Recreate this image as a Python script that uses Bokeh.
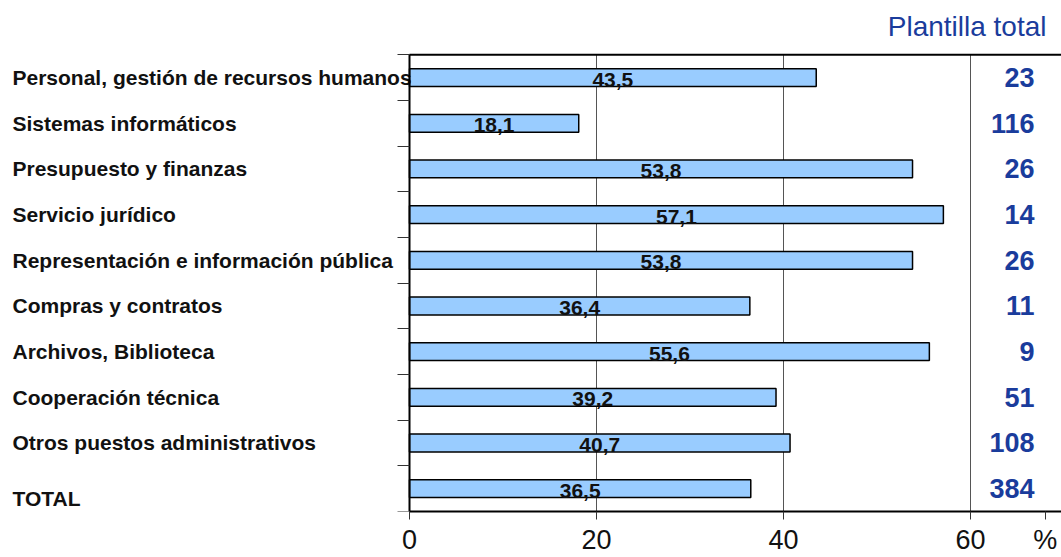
from bokeh.plotting import figure
from bokeh.models import ColumnDataSource, Range1d, FixedTicker, LinearAxis
from bokeh.core.properties import value
from bokeh.embed import file_html
from bokeh.resources import INLINE

categories = ["Personal, gestión de recursos humanos", "Sistemas informáticos",
              "Presupuesto y finanzas", "Servicio jurídico",
              "Representación e información pública", "Compras y contratos",
              "Archivos, Biblioteca", "Cooperación técnica",
              "Otros puestos administrativos", "TOTAL"]
pct = [43.5, 18.1, 53.8, 57.1, 53.8, 36.4, 55.6, 39.2, 40.7, 36.5]
plantilla = [23, 116, 26, 14, 26, 11, 9, 51, 108, 384]
x_ticks = [0, 20, 40, 60]
right_title = "Plantilla total"
unit_label = "%"
unit_pos = 68

FONT = "Liberation Sans"
BLUE = "#1a3c9c"
n = len(categories)

# geometry (pixels)
W, H = 1061, 557
PX_X = 9.35          # pixels per percentage point
AXIS_X0 = 409        # screen x of value 0
TOP_Y = 54.5         # screen y of top of first row
BOT_Y = 513          # screen y of bottom axis (frame bottom)
PX_Y = (BOT_Y - TOP_Y) / n

XSTART = -AXIS_X0 / PX_X
XEND = XSTART + W / PX_X
YTOP = -TOP_Y / PX_Y

src = ColumnDataSource(dict(
    y=[i + 0.5 for i in range(n)],
    cat=categories,
    pct=pct,
    mid=[v / 2 for v in pct],
    pct_txt=[f"{v:.1f}".replace(".", ",") for v in pct],
    plant=[str(v) for v in plantilla],
    catoff=[10 if c == "TOTAL" else 0 for c in categories],
))

p = figure(width=W, height=H, output_backend="svg", toolbar_location=None,
           x_range=Range1d(XSTART, XEND), y_range=Range1d(n, YTOP),
           x_axis_location="below", y_axis_location=None,
           min_border_left=0, min_border_right=0, min_border_top=0,
           min_border_bottom=H - BOT_Y)
p.outline_line_color = None
p.background_fill_color = "white"
p.border_fill_color = "white"

# grid
p.ygrid.visible = False
p.xgrid.ticker = FixedTicker(ticks=x_ticks)
p.xgrid.grid_line_color = "#555555"
p.xgrid.grid_line_width = 1
p.xgrid.cross_bounds = (0, n)

# x axis
xa = p.xaxis[0]
xa.ticker = FixedTicker(ticks=x_ticks + [unit_pos])
xa.major_label_overrides = {unit_pos: unit_label}
xa.bounds = (0, XEND)
xa.major_label_text_font = FONT
xa.major_label_text_font_size = "27px"
xa.major_label_text_color = "#111111"
xa.major_label_standoff = 5
xa.major_tick_out = 8
xa.major_tick_in = 0
xa.minor_tick_line_color = None
xa.axis_line_color = "black"
xa.axis_line_width = 2
xa.major_tick_line_color = "#333333"

# y axis: row boundaries, drawn at x=0 with ticks pointing left
ya = LinearAxis(fixed_location=0, bounds=(0, n),
                ticker=FixedTicker(ticks=list(range(n + 1))),
                major_label_overrides={i: "" for i in range(n + 1)},
                major_label_text_font_size="0px", major_label_standoff=0,
                major_tick_in=12, major_tick_out=0, minor_tick_line_color=None,
                axis_line_color="black", axis_line_width=2,
                major_tick_line_color="#333333")
p.add_layout(ya, "right")

# top border line of plot area
p.segment(x0=[0], x1=[XEND], y0=[0], y1=[0], line_color="black", line_width=2)

# bars
p.hbar(y="y", left=0, right="pct", height=0.39, source=src,
       fill_color="#99CCFF", line_color="black", line_width=1.5)

# values on bars
p.text(x="mid", y="y", text="pct_txt", source=src, text_font=value(FONT),
       text_font_style="bold", text_font_size="21px", text_color="#111111",
       text_align="center", text_baseline="middle", y_offset=2)

# category labels
p.text(x=XSTART, y="y", text="cat", source=src, x_offset=12, y_offset="catoff",
       text_font=value(FONT), text_font_style="bold", text_font_size="21px",
       text_color="#111111", text_align="left", text_baseline="middle")

# plantilla numbers
p.text(x=XEND, y="y", text="plant", source=src, x_offset=-27,
       text_font=value(FONT), text_font_style="bold", text_font_size="27px",
       text_color=BLUE, text_align="right", text_baseline="middle")

# column title
p.text(x=[XEND], y=[YTOP + 26 / PX_Y], text=[right_title], x_offset=-15,
       text_font=value(FONT), text_font_size="28px", text_color=BLUE,
       text_align="right", text_baseline="middle")

open("out.html", "w").write(file_html(p, INLINE))
